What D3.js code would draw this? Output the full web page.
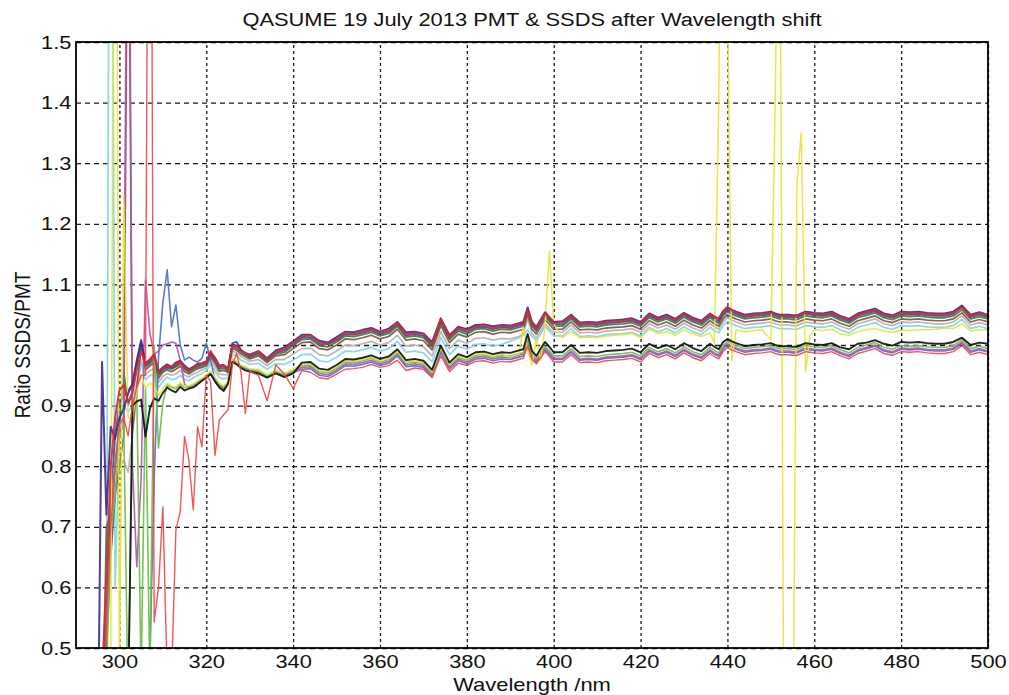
<!DOCTYPE html>
<html>
<head>
<meta charset="utf-8">
<script src="https://cdn.jsdelivr.net/npm/d3@7"></script>
<style>
  body { margin: 0; background: #ffffff; }
  svg { display: block; }
  text { font-family: "Liberation Sans", Arial, Helvetica, sans-serif; fill: #111; }
</style>
</head>
<body>
<svg id="chart" width="1009" height="695"></svg>
<script>
// ---------------- DATA ----------------
const chartTitle = "QASUME 19 July 2013 PMT & SSDS after Wavelength shift";
const xAxisTitle = "Wavelength /nm";
const yAxisTitle = "Ratio SSDS/PMT";
const xDomain = [290, 500];
const yDomain = [0.5, 1.5];
const xTicks = [300, 320, 340, 360, 380, 400, 420, 440, 460, 480, 500];
const yTicks = [0.5, 0.6, 0.7, 0.8, 0.9, 1.0, 1.1, 1.2, 1.3, 1.4, 1.5];
const yTickLabels = ["0.5", "0.6", "0.7", "0.8", "0.9", "1", "1.1", "1.2", "1.3", "1.4", "1.5"];

const wavelengths = [
  295,296,297,298,299,300,301,302,303,304,305,306,307,308,309,310,311,312,313,314,315,316,317,318,319,320,321,322,323,324,325,326,327,328,329,330,
  332,334,336,338,340,342,344,346,348,350,352,354,356,358,360,362,364,366,368,370,372,374,376,378,380,382,384,386,388,390,392,
  393,394,395,396,397,398,399,400,
  402,404,406,408,410,412,414,416,418,420,422,424,426,428,430,432,434,436,
  437,438,439,440,441,442,
  444,446,448,450,
  451,452,453,454,455,456,457,458,459,460,
  462,464,466,468,470,472,474,476,478,480,482,484,486,488,490,492,494,496,498,500
];

const ratioIndigo = [
  0.30,0.972,0.720,0.865,0.845,0.880,0.895,0.920,0.936,0.975,1.008,0.970,0.976,0.984,0.957,0.963,0.968,0.964,0.971,0.974,0.966,0.960,0.964,0.969,0.970,0.973,0.988,0.979,0.966,0.967,0.961,1.001,0.999,0.991,0.987,0.984,
  0.990,0.978,0.991,0.996,1.006,1.017,1.017,1.007,1.004,1.013,1.022,1.021,1.025,1.028,1.022,1.027,1.038,1.021,1.022,1.019,1.005,1.044,1.016,1.030,1.026,1.033,1.034,1.031,1.033,1.032,1.036,
  1.038,1.062,1.038,1.030,1.042,1.054,1.046,1.038,
  1.039,1.050,1.037,1.038,1.037,1.040,1.041,1.042,1.044,1.038,1.052,1.045,1.050,1.043,1.053,1.045,1.040,1.052,
  1.047,1.043,1.055,1.062,1.058,1.055,
  1.050,1.052,1.053,1.055,
  1.052,1.050,1.050,1.050,1.049,1.049,1.052,1.055,1.054,1.053,
  1.052,1.055,1.048,1.043,1.052,1.056,1.060,1.052,1.049,1.055,1.054,1.055,1.053,1.052,1.052,1.055,1.065,1.050,1.054,1.050
];
const ratioRed = [
  0.30,0.45,0.62,0.80,0.88,0.925,0.934,0.905,0.920,0.960,0.990,0.968,0.976,0.985,0.954,0.963,0.965,0.964,0.968,0.973,0.963,0.958,0.963,0.967,0.969,0.971,0.990,0.976,0.964,0.966,0.959,0.999,0.997,0.991,0.986,0.982,
  0.989,0.977,0.988,0.993,1.004,1.014,1.016,1.004,1.002,1.010,1.021,1.018,1.022,1.026,1.020,1.024,1.037,1.018,1.020,1.018,1.001,1.043,1.014,1.028,1.024,1.031,1.032,1.028,1.031,1.030,1.034,
  1.036,1.058,1.036,1.028,1.040,1.052,1.044,1.036,
  1.037,1.048,1.035,1.036,1.035,1.038,1.039,1.040,1.042,1.036,1.050,1.043,1.048,1.041,1.051,1.043,1.038,1.050,
  1.045,1.044,1.056,1.063,1.057,1.053,
  1.048,1.050,1.051,1.053,
  1.050,1.048,1.048,1.048,1.047,1.047,1.050,1.053,1.052,1.051,
  1.050,1.053,1.046,1.041,1.050,1.054,1.058,1.050,1.047,1.053,1.052,1.053,1.051,1.050,1.050,1.053,1.062,1.048,1.052,1.048
];
const ratioBlue = [
  0.25,0.35,0.55,0.75,0.85,0.905,0.915,0.925,0.935,0.972,1.004,0.966,0.972,0.981,0.952,0.961,0.964,0.962,0.966,0.971,0.962,0.957,0.962,0.966,0.968,0.971,0.986,0.975,0.962,0.965,0.958,1.003,1.005,0.992,0.985,0.981,
  0.987,0.975,0.987,0.991,1.002,1.012,1.013,1.002,1.001,1.008,1.018,1.017,1.020,1.024,1.018,1.022,1.034,1.016,1.018,1.015,1.000,1.040,1.012,1.026,1.021,1.029,1.030,1.026,1.029,1.028,1.032,
  1.034,1.060,1.034,1.026,1.038,1.050,1.042,1.034,
  1.034,1.046,1.033,1.034,1.033,1.036,1.037,1.038,1.040,1.034,1.048,1.041,1.046,1.039,1.049,1.041,1.036,1.048,
  1.043,1.039,1.051,1.058,1.054,1.051,
  1.046,1.048,1.049,1.051,
  1.048,1.046,1.046,1.046,1.045,1.045,1.048,1.051,1.050,1.049,
  1.048,1.051,1.044,1.039,1.048,1.052,1.056,1.048,1.045,1.051,1.050,1.051,1.049,1.048,1.048,1.051,1.064,1.046,1.050,1.046
];
const ratioGreen = [
  0.20,0.30,0.70,0.72,0.80,0.87,0.955,0.900,0.925,0.970,1.000,0.963,0.969,0.976,0.950,0.958,0.962,0.960,0.964,0.969,0.960,0.955,0.960,0.963,0.966,0.968,0.984,0.973,0.960,0.962,0.956,0.998,0.994,0.988,0.984,0.979,
  0.985,0.973,0.985,0.988,0.999,1.009,1.010,0.999,0.997,1.005,1.015,1.014,1.017,1.021,1.015,1.019,1.031,1.013,1.015,1.012,0.997,1.037,1.009,1.023,1.018,1.026,1.027,1.023,1.026,1.025,1.029,
  1.031,1.055,1.031,1.023,1.035,1.047,1.039,1.031,
  1.031,1.043,1.030,1.031,1.030,1.033,1.034,1.035,1.037,1.031,1.045,1.038,1.043,1.036,1.046,1.038,1.033,1.045,
  1.040,1.036,1.048,1.055,1.051,1.048,
  1.043,1.045,1.046,1.048,
  1.045,1.043,1.043,1.043,1.042,1.042,1.045,1.048,1.047,1.046,
  1.045,1.048,1.041,1.036,1.045,1.049,1.053,1.045,1.042,1.048,1.047,1.048,1.046,1.045,1.045,1.048,1.058,1.043,1.047,1.043
];
const ratioBrown = [
  0.20,0.30,0.50,0.65,0.75,0.80,0.85,1.90,0.86,0.93,0.995,0.959,0.965,0.971,0.945,0.955,0.959,0.956,0.960,0.965,0.956,0.952,0.957,0.961,0.963,0.966,0.980,0.970,0.957,0.958,0.955,0.995,0.991,0.985,0.981,0.977,
  0.982,0.971,0.982,0.984,0.994,1.004,1.005,0.994,0.992,1.000,1.010,1.009,1.012,1.016,1.010,1.014,1.026,1.008,1.010,1.007,0.992,1.032,1.004,1.018,1.013,1.021,1.022,1.018,1.021,1.020,1.024,
  1.026,1.050,1.026,1.018,1.030,1.042,1.034,1.026,
  1.026,1.038,1.025,1.026,1.025,1.028,1.029,1.030,1.032,1.026,1.040,1.033,1.038,1.031,1.041,1.033,1.028,1.040,
  1.035,1.031,1.043,1.050,1.046,1.043,
  1.038,1.040,1.041,1.043,
  1.040,1.038,1.038,1.038,1.037,1.037,1.040,1.043,1.042,1.041,
  1.040,1.043,1.036,1.031,1.040,1.044,1.048,1.040,1.037,1.043,1.042,1.043,1.041,1.040,1.040,1.043,1.053,1.038,1.042,1.038
];
const ratioGrey = [
  0.20,0.35,0.55,0.70,0.76,0.80,0.81,0.79,0.85,0.92,0.975,0.951,0.958,0.961,0.938,0.948,0.953,0.950,0.952,0.958,0.950,0.947,0.952,0.955,0.959,0.962,0.974,0.964,0.952,0.951,0.951,0.990,0.987,0.981,0.977,0.973,
  0.976,0.966,0.976,0.976,0.985,0.994,0.995,0.984,0.982,0.990,1.000,0.999,1.002,1.006,1.000,1.004,1.016,0.998,1.000,0.997,0.982,1.022,0.994,1.008,1.003,1.011,1.012,1.008,1.011,1.010,1.014,
  1.019,1.043,1.019,1.011,1.023,1.035,1.027,1.021,
  1.021,1.033,1.020,1.021,1.020,1.023,1.024,1.025,1.027,1.021,1.035,1.028,1.033,1.026,1.036,1.028,1.023,1.035,
  1.030,1.026,1.038,1.045,1.041,1.038,
  1.033,1.035,1.036,1.038,
  1.035,1.033,1.033,1.033,1.032,1.032,1.035,1.038,1.037,1.036,
  1.035,1.038,1.031,1.026,1.035,1.039,1.043,1.035,1.032,1.038,1.037,1.038,1.036,1.035,1.035,1.038,1.048,1.033,1.037,1.033
];
const ratioCyan = [
  0.20,0.30,0.45,2.60,0.60,0.85,0.90,0.89,0.90,0.94,0.97,0.943,0.950,0.950,0.930,0.940,0.947,0.943,0.944,0.950,0.943,0.941,0.946,0.950,0.953,0.958,0.968,0.957,0.946,0.944,0.946,0.985,0.982,0.975,0.972,0.968,
  0.970,0.960,0.969,0.968,0.975,0.984,0.985,0.974,0.972,0.980,0.990,0.989,0.992,0.996,0.990,0.994,1.006,0.988,0.990,0.987,0.972,1.012,0.984,0.998,0.993,1.001,1.002,0.998,1.001,1.006,1.012,
  1.016,1.025,1.014,1.007,1.018,1.031,1.023,1.015,
  1.015,1.027,1.014,1.015,1.014,1.017,1.018,1.019,1.021,1.015,1.029,1.022,1.027,1.020,1.030,1.022,1.017,1.029,
  1.024,1.020,1.032,1.039,1.035,1.032,
  1.027,1.029,1.030,1.032,
  1.029,1.027,1.027,1.027,1.026,1.026,1.029,1.032,1.031,1.030,
  1.029,1.032,1.025,1.020,1.029,1.033,1.037,1.029,1.026,1.032,1.031,1.032,1.030,1.029,1.029,1.032,1.042,1.027,1.031,1.027
];
const ratioYellow = [
  0.20,0.30,0.38,0.45,2.60,0.45,1.247,0.88,0.88,0.925,0.95,0.929,0.937,0.932,0.917,0.928,0.937,0.932,0.931,0.938,0.932,0.933,0.936,0.941,0.945,0.951,0.957,0.947,0.937,0.933,0.940,0.977,0.973,0.967,0.964,0.961,
  0.960,0.951,0.959,0.954,0.960,0.968,0.969,0.958,0.956,0.964,0.974,0.973,0.976,0.980,0.974,0.978,0.990,0.972,0.974,0.971,0.956,0.996,0.968,0.982,0.977,0.985,0.986,0.982,0.985,0.980,0.985,
  1.030,0.990,0.967,1.010,0.975,1.030,1.155,1.035,
  1.012,1.022,1.012,1.013,1.012,1.015,1.016,1.017,1.019,1.012,1.026,1.019,1.022,1.016,1.025,1.018,1.014,1.020,
  1.003,1.400,2.200,1.600,0.975,1.025,
  1.022,1.024,1.025,1.008,
  1.400,1.950,0.300,0.100,0.200,1.267,1.350,0.956,1.015,1.025,
  1.024,1.026,1.018,1.016,1.022,1.025,1.027,1.023,1.021,1.024,1.024,1.025,1.025,1.026,1.028,1.027,1.035,1.023,1.025,1.025
];
const ratioBlack = [
  0.20,0.25,0.30,0.35,0.38,0.40,0.42,0.40,0.900,0.907,0.910,0.849,0.895,0.912,0.908,0.921,0.930,0.925,0.922,0.931,0.925,0.928,0.930,0.935,0.941,0.946,0.952,0.940,0.930,0.924,0.936,0.972,0.968,0.962,0.958,0.956,
  0.953,0.946,0.953,0.947,0.953,0.971,0.972,0.961,0.959,0.967,0.977,0.976,0.979,0.983,0.977,0.981,0.993,0.975,0.977,0.974,0.959,0.999,0.971,0.985,0.980,0.988,0.989,0.985,0.988,0.987,0.991,
  0.993,1.018,0.990,0.982,0.994,1.005,0.997,0.988,
  0.988,1.000,0.987,0.988,0.987,0.990,0.991,0.992,0.994,0.988,1.002,0.995,1.000,0.993,1.003,0.995,0.990,1.002,
  0.997,0.993,1.005,1.010,1.006,1.003,
  0.998,1.000,1.001,1.003,
  1.000,0.998,0.998,0.998,0.997,0.997,1.000,1.003,1.002,1.001,
  1.000,1.003,0.996,0.993,1.002,1.004,1.008,1.002,0.999,1.005,1.004,1.005,1.003,1.002,1.002,1.005,1.012,1.000,1.004,1.002
];
const ratioLightGreen = [
  0.20,0.30,0.45,0.69,0.75,0.85,0.87,0.40,0.88,0.92,0.45,0.93,0.45,1.00,0.83,0.905,0.934,0.930,0.928,0.936,0.930,0.931,0.934,0.939,0.944,0.950,0.955,0.945,0.935,0.930,0.939,0.976,0.972,0.966,0.963,0.960,
  0.957,0.949,0.956,0.951,0.957,0.966,0.967,0.956,0.954,0.962,0.972,0.971,0.974,0.978,0.972,0.976,0.988,0.970,0.972,0.969,0.954,0.994,0.966,0.980,0.975,0.983,0.984,0.980,0.983,0.982,0.986,
  0.987,1.008,0.985,0.977,0.988,0.998,0.990,0.982,
  0.982,0.994,0.981,0.982,0.981,0.984,0.985,0.986,0.988,0.982,0.996,0.989,0.994,0.987,0.997,0.989,0.984,0.996,
  0.991,0.987,0.999,1.006,1.002,0.999,
  0.994,0.996,0.997,0.999,
  0.996,0.994,0.994,0.994,0.993,0.993,0.996,0.999,0.998,0.997,
  0.996,0.999,0.992,0.987,0.996,1.000,1.004,0.996,0.993,0.999,0.998,0.999,0.997,0.996,0.996,0.999,1.009,0.994,0.998,0.994
];
const ratioMagenta = [
  0.20,0.30,0.50,0.70,0.80,0.85,0.88,2.20,0.80,0.634,0.780,1.107,1.020,0.985,0.990,1.000,1.002,1.005,1.003,0.975,0.935,0.930,0.932,0.937,0.942,0.948,0.954,0.943,0.933,0.929,0.938,0.975,0.971,0.965,0.962,0.959,
  0.956,0.948,0.955,0.950,0.956,0.963,0.964,0.953,0.951,0.959,0.969,0.968,0.971,0.975,0.969,0.973,0.985,0.967,0.969,0.966,0.951,0.991,0.963,0.977,0.972,0.980,0.981,0.977,0.980,0.979,0.983,
  0.985,1.005,0.982,0.974,0.985,0.995,0.987,0.978,
  0.978,0.990,0.977,0.978,0.977,0.980,0.981,0.982,0.984,0.978,0.992,0.985,0.990,0.983,0.993,0.985,0.980,0.992,
  0.987,0.983,0.995,1.002,0.998,0.995,
  0.990,0.992,0.993,0.995,
  0.992,0.990,0.990,0.990,0.989,0.989,0.992,0.995,0.994,0.993,
  0.992,0.995,0.988,0.983,0.992,0.996,1.000,0.992,0.989,0.995,0.994,0.995,0.993,0.992,0.992,0.995,1.005,0.990,0.994,0.990
];
const ratioLightBlue = [
  0.20,0.25,0.30,0.35,0.38,0.40,0.42,0.42,0.43,0.44,0.45,0.45,0.48,0.78,0.98,1.07,1.124,1.030,1.066,1.000,0.975,0.980,0.975,0.972,0.978,1.003,0.975,0.942,0.932,0.927,0.937,0.974,0.970,0.964,0.961,0.958,
  0.955,0.947,0.954,0.948,0.954,0.960,0.961,0.950,0.948,0.956,0.966,0.965,0.968,0.972,0.966,0.970,0.982,0.964,0.966,0.963,0.948,0.988,0.960,0.974,0.969,0.977,0.978,0.974,0.977,0.976,0.980,
  0.982,1.002,0.979,0.971,0.982,0.992,0.984,0.976,
  0.976,0.988,0.975,0.976,0.975,0.978,0.979,0.980,0.982,0.976,0.990,0.983,0.988,0.981,0.991,0.983,0.978,0.990,
  0.985,0.981,0.993,1.000,0.996,0.993,
  0.988,0.990,0.991,0.993,
  0.990,0.988,0.988,0.988,0.987,0.987,0.990,0.993,0.992,0.991,
  0.990,0.993,0.986,0.981,0.990,0.994,0.998,0.990,0.987,0.993,0.992,0.993,0.991,0.990,0.990,0.993,1.003,0.988,0.992,0.988
];
const ratioLightRed = [
  0.20,0.30,0.55,0.70,0.80,0.87,0.88,0.85,0.90,0.93,0.95,0.95,2.50,0.543,0.600,0.733,0.450,0.450,0.695,0.726,0.849,0.810,0.728,0.865,0.832,0.950,0.940,0.818,0.876,0.885,0.893,0.967,0.986,0.955,0.887,0.956,
  0.950,0.908,0.967,0.952,0.928,0.958,0.955,0.946,0.944,0.952,0.960,0.961,0.963,0.968,0.963,0.966,0.975,0.958,0.962,0.960,0.946,0.982,0.956,0.970,0.966,0.973,0.974,0.970,0.973,0.972,0.976,
  0.978,0.998,0.976,0.969,0.979,0.989,0.981,0.972,
  0.972,0.984,0.971,0.972,0.971,0.974,0.975,0.976,0.978,0.972,0.986,0.979,0.984,0.977,0.987,0.979,0.974,0.986,
  0.981,0.977,0.989,0.996,0.992,0.989,
  0.984,0.986,0.987,0.989,
  0.986,0.984,0.984,0.984,0.983,0.983,0.986,0.989,0.988,0.987,
  0.986,0.989,0.982,0.977,0.986,0.990,0.994,0.986,0.983,0.989,0.988,0.989,0.987,0.986,0.986,0.989,0.999,0.984,0.988,0.984
];

// draw order: first listed is drawn first (underneath)
const seriesValues = [ratioGrey, ratioCyan, ratioBrown, ratioGreen, ratioBlue, ratioLightBlue, ratioMagenta, ratioLightGreen, ratioYellow, ratioIndigo, ratioBlack, ratioLightRed, ratioRed];
const seriesColors = ["#bcaeb2", "#7fd6e4", "#8c4d40", "#25893c", "#2f50b2", "#5070cc", "#b455b2", "#6cbd4c", "#e6e43a", "#3f2c8e", "#111111", "#f24848", "#e3262a"];
const seriesWidths = [1.7, 1.7, 1.7, 1.8, 1.8, 1.6, 1.6, 1.6, 1.5, 2.0, 1.9, 1.4, 2.0];

// ---------------- DRAWING ----------------
const plot = { left: 76, right: 988, top: 42, bottom: 648 };
const fontSize = 19;
const stretch = "scale(1.15,1)";

const svg = d3.select("#chart");
svg.append("rect").attr("width", 1009).attr("height", 695).attr("fill", "#ffffff");

const x = d3.scaleLinear().domain(xDomain).range([plot.left, plot.right]);
const y = d3.scaleLinear().domain(yDomain).range([plot.bottom, plot.top]);

svg.append("defs").append("clipPath").attr("id", "plotClip")
  .append("rect")
  .attr("x", plot.left).attr("y", plot.top)
  .attr("width", plot.right - plot.left).attr("height", plot.bottom - plot.top);

// grid lines
const gridX = svg.append("g")
  .attr("transform", `translate(0,${plot.bottom})`)
  .call(d3.axisBottom(x).tickValues(xTicks).tickSize(-(plot.bottom - plot.top)).tickFormat(""));
gridX.select(".domain").remove();
gridX.selectAll(".tick line").attr("stroke", "#1a1a1a").attr("stroke-width", 1.3).attr("stroke-dasharray", "3,3");

const gridY = svg.append("g")
  .attr("transform", `translate(${plot.left},0)`)
  .call(d3.axisLeft(y).tickValues(yTicks).tickSize(-(plot.right - plot.left)).tickFormat(""));
gridY.select(".domain").remove();
gridY.selectAll(".tick line").attr("stroke", "#1a1a1a").attr("stroke-width", 1.3).attr("stroke-dasharray", "5,4");

// series lines
const line = d3.line()
  .x((d, i) => x(wavelengths[i]))
  .y(d => y(d));

svg.append("g").attr("clip-path", "url(#plotClip)")
  .selectAll("path")
  .data(seriesValues)
  .join("path")
  .attr("d", d => line(d))
  .attr("fill", "none")
  .attr("stroke", (d, i) => seriesColors[i])
  .attr("stroke-width", (d, i) => seriesWidths[i])
  .attr("stroke-linejoin", "round")
  .attr("stroke-opacity", 0.92);

// frame
svg.append("rect")
  .attr("x", plot.left).attr("y", plot.top)
  .attr("width", plot.right - plot.left).attr("height", plot.bottom - plot.top)
  .attr("fill", "none").attr("stroke", "#000").attr("stroke-width", 1.8);

// x axis labels
const axX = svg.append("g")
  .attr("transform", `translate(0,${plot.bottom})`)
  .call(d3.axisBottom(x).tickValues(xTicks).tickSize(0).tickPadding(7).tickFormat(d3.format("d")));
axX.select(".domain").remove();
axX.selectAll(".tick text")
  .attr("font-size", fontSize)
  .attr("font-family", "Liberation Sans, Arial, sans-serif")
  .attr("fill", "#111")
  .attr("transform", stretch);

// y axis labels
const axY = svg.append("g")
  .attr("transform", `translate(${plot.left},0)`)
  .call(d3.axisLeft(y).tickValues(yTicks).tickSize(0).tickPadding(4)
    .tickFormat((d, i) => yTickLabels[i]));
axY.select(".domain").remove();
axY.selectAll(".tick text")
  .attr("font-size", fontSize)
  .attr("font-family", "Liberation Sans, Arial, sans-serif")
  .attr("fill", "#111")
  .attr("transform", stretch);

// title
svg.append("text")
  .attr("transform", `translate(${(plot.left + plot.right) / 2},26) ${stretch}`)
  .attr("text-anchor", "middle")
  .attr("font-size", fontSize)
  .text(chartTitle);

// x axis title
svg.append("text")
  .attr("transform", `translate(${(plot.left + plot.right) / 2},690.5) scale(1.22,1)`)
  .attr("text-anchor", "middle")
  .attr("font-size", 18)
  .text(xAxisTitle);

// y axis title
svg.append("text")
  .attr("transform", `translate(30,${(plot.top + plot.bottom) / 2}) ${stretch} rotate(-90)`)
  .attr("text-anchor", "middle")
  .attr("font-size", fontSize)
  .text(yAxisTitle);
</script>
</body>
</html>
